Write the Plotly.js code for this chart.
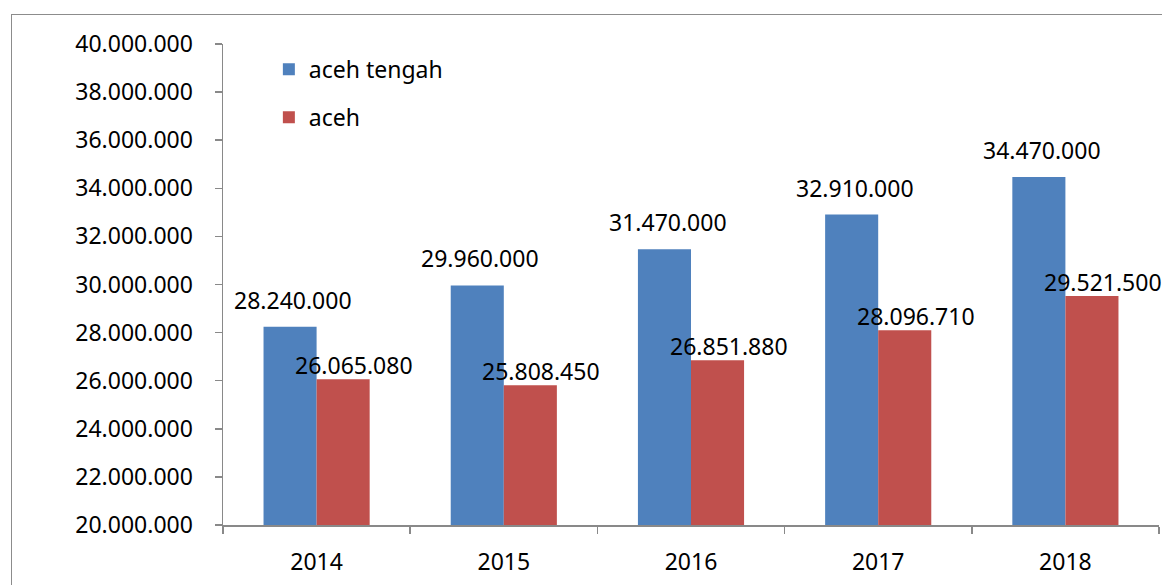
<!DOCTYPE html>
<html>
<head>
<meta charset="utf-8">
<script src="https://cdn.plot.ly/plotly-3.0.1.min.js"></script>
<style>
  html, body { margin: 0; padding: 0; background: #fff; }
  #wrap { position: relative; width: 1162px; height: 585px; overflow: hidden; }
  #frame { position: absolute; left: 11px; top: 14px; width: 1200px; height: 700px; border: 1px solid #8c8c8c; box-sizing: border-box; }
  #chart { position: absolute; left: 0; top: 0; width: 1162px; height: 585px; }
</style>
</head>
<body>
<div id="wrap">
  <div id="frame"></div>
  <div id="chart"></div>
</div>
<script>
const years = ['2014', '2015', '2016', '2017', '2018'];
const acehTengah = [28240000, 29960000, 31470000, 32910000, 34470000];
const aceh = [26065080, 25808450, 26851880, 28096710, 29521500];
const seriesNames = ['aceh tengah', 'aceh'];
const yTicks = [20000000, 22000000, 24000000, 26000000, 28000000, 30000000, 32000000, 34000000, 36000000, 38000000, 40000000];

const FONT = '"Noto Sans", "Open Sans", sans-serif';
const fmt = v => v.toString().replace(/\B(?=(\d{3})+(?!\d))/g, '.');

const blue = '#4F81BD';
const red = '#C0504D';

const traces = [
  { type: 'bar', name: seriesNames[0], x: years, y: acehTengah, marker: { color: blue }, legendgroup: 'a', hoverinfo: 'skip' },
  { type: 'bar', name: seriesNames[1], x: years, y: aceh, marker: { color: red }, legendgroup: 'b', hoverinfo: 'skip' }
];

const half = 26.5;
const annotations = [];
years.forEach((yr, i) => {
  annotations.push({ x: i, y: acehTengah[i], xref: 'x', yref: 'y', text: fmt(acehTengah[i]), showarrow: false,
    xshift: -half + 3, yshift: 27, yanchor: 'middle', font: { family: FONT, size: 23, color: '#000' } });
  annotations.push({ x: i, y: aceh[i], xref: 'x', yref: 'y', text: fmt(aceh[i]), showarrow: false,
    xshift: half + 11, yshift: 14, yanchor: 'middle', font: { family: FONT, size: 23, color: '#000' } });
});

const layout = {
  width: 1162, height: 585,
  margin: { l: 223, r: 3, t: 44, b: 60 },
  paper_bgcolor: 'rgba(0,0,0,0)', plot_bgcolor: 'rgba(0,0,0,0)',
  font: { family: FONT, size: 23, color: '#000' },
  separators: ',.',
  barmode: 'group', bargap: 0.433, bargroupgap: 0,
  showlegend: true,
  legend: { x: 0.049, y: 0.992, xanchor: 'left', yanchor: 'top', bgcolor: 'rgba(0,0,0,0)',
    font: { family: FONT, size: 23, color: '#000' }, traceorder: 'grouped', tracegroupgap: 15 },
  xaxis: { type: 'category', range: [-0.5, years.length - 0.5], showline: true, linecolor: '#898989', linewidth: 1.5, ticks: 'outside', tickson: 'boundaries',
    ticklen: 7, tickcolor: '#898989', tickwidth: 1.5, showgrid: false, zeroline: false, ticklabelstandoff: 16,
    tickfont: { family: FONT, size: 23, color: '#000' } },
  yaxis: { range: [20000000, 40000000], tickvals: yTicks, ticktext: yTicks.map(fmt), showline: true, linecolor: '#898989', linewidth: 1.5,
    ticks: 'outside', ticklen: 7, tickcolor: '#898989', tickwidth: 1.5, showgrid: false, zeroline: false, ticklabelstandoff: 17,
    tickfont: { family: FONT, size: 23, color: '#000' } },
  annotations: annotations
};

Plotly.newPlot('chart', traces, layout, { staticPlot: true, displayModeBar: false });
</script>
</body>
</html>
